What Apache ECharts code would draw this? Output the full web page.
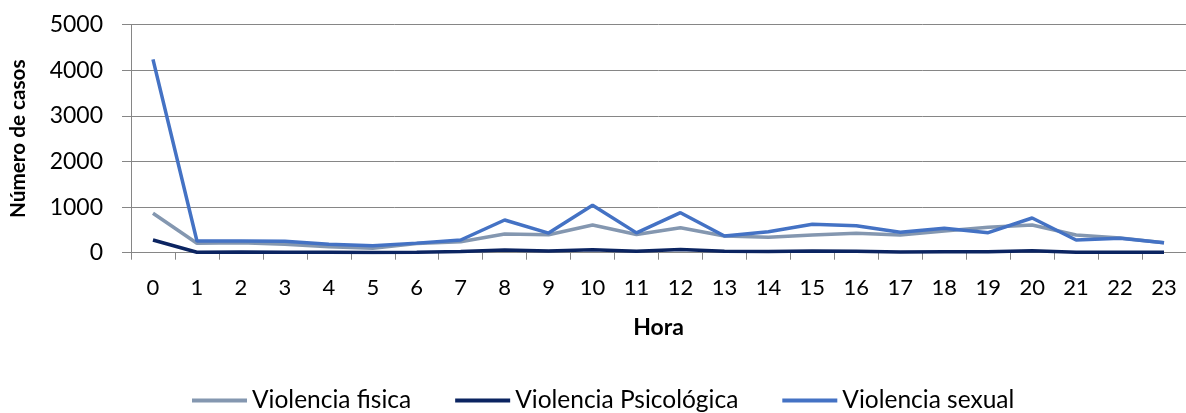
<!DOCTYPE html>
<html>
<head>
<meta charset="utf-8">
<script src="https://cdn.jsdelivr.net/npm/echarts@6/dist/echarts.min.js"></script>
<style>
html,body{margin:0;padding:0;background:#fff;}
#chart{width:1186px;height:413px;}
</style>
</head>
<body>
<div id="chart"></div>
<script>
const hours = ['0','1','2','3','4','5','6','7','8','9','10','11','12','13','14','15','16','17','18','19','20','21','22','23'];
const violenciaFisica = [864, 206, 220, 184, 132, 96, 200, 241, 410, 395, 607, 400, 548, 365, 337, 388, 425, 388, 475, 557, 607, 388, 320, 220];
const violenciaPsicologica = [278, 10, 15, 10, 10, 5, 10, 25, 60, 40, 65, 30, 70, 30, 25, 35, 30, 15, 20, 20, 45, 10, 10, 10];
const violenciaSexual = [4240, 257, 257, 250, 184, 154, 210, 278, 717, 430, 1039, 435, 877, 366, 461, 622, 592, 447, 535, 439, 761, 278, 315, 219];
const yTicks = [0, 1000, 2000, 3000, 4000, 5000];

const font = 'Lato';
const chart = echarts.init(document.getElementById('chart'), null, {renderer: 'canvas'});
const lineStyle = (c) => ({color: c, width: 3.5});
chart.setOption({
  animation: false,
  textStyle: {fontFamily: font},
  grid: {left: 122.7, width: 1073, top: 24.7, height: 228, containLabel: false},
  legend: {
    left: 192, top: 388, padding: 0,
    itemWidth: 55, itemHeight: 4, itemGap: 44,
    icon: 'rect',
    textStyle: {fontFamily: font, fontSize: 24.5, color: '#000'},
    data: ['Violencia fisica', 'Violencia Psicológica', 'Violencia sexual']
  },
  xAxis: {
    type: 'category',
    data: hours,
    boundaryGap: true,
    name: 'Hora',
    nameLocation: 'middle',
    nameGap: 63,
    nameTextStyle: {fontFamily: font, fontSize: 23, fontWeight: 'bold', color: '#000'},
    axisLine: {lineStyle: {color: '#868686', width: 1}},
    axisTick: {show: true, length: 7, lineStyle: {color: '#868686'}},
    axisLabel: {fontFamily: font, fontSize: 22, color: '#000', margin: 24, interval: 0}
  },
  yAxis: {
    type: 'value',
    min: 0, max: 5000, interval: 1000,
    name: 'Número de casos',
    nameLocation: 'middle',
    nameGap: 102,
    nameRotate: 90,
    nameTextStyle: {fontFamily: font, fontSize: 20.7, fontWeight: 'bold', color: '#000'},
    axisLine: {show: true, lineStyle: {color: '#868686', width: 1}},
    axisTick: {show: true, length: 9, lineStyle: {color: '#868686'}},
    splitLine: {lineStyle: {color: '#868686', width: 1}},
    axisLabel: {fontFamily: font, fontSize: 23, color: '#000', margin: 28,
      formatter: (v) => yTicks.includes(v) ? String(v) : ''}
  },
  series: [
    {name: 'Violencia fisica', type: 'line', data: violenciaFisica, symbol: 'none', lineStyle: lineStyle('#8497B0'), itemStyle: {color: '#8497B0'}},
    {name: 'Violencia Psicológica', type: 'line', data: violenciaPsicologica, symbol: 'none', lineStyle: lineStyle('#0B2461'), itemStyle: {color: '#0B2461'}},
    {name: 'Violencia sexual', type: 'line', data: violenciaSexual, symbol: 'none', lineStyle: lineStyle('#4472C4'), itemStyle: {color: '#4472C4'}}
  ]
});
</script>
</body>
</html>
